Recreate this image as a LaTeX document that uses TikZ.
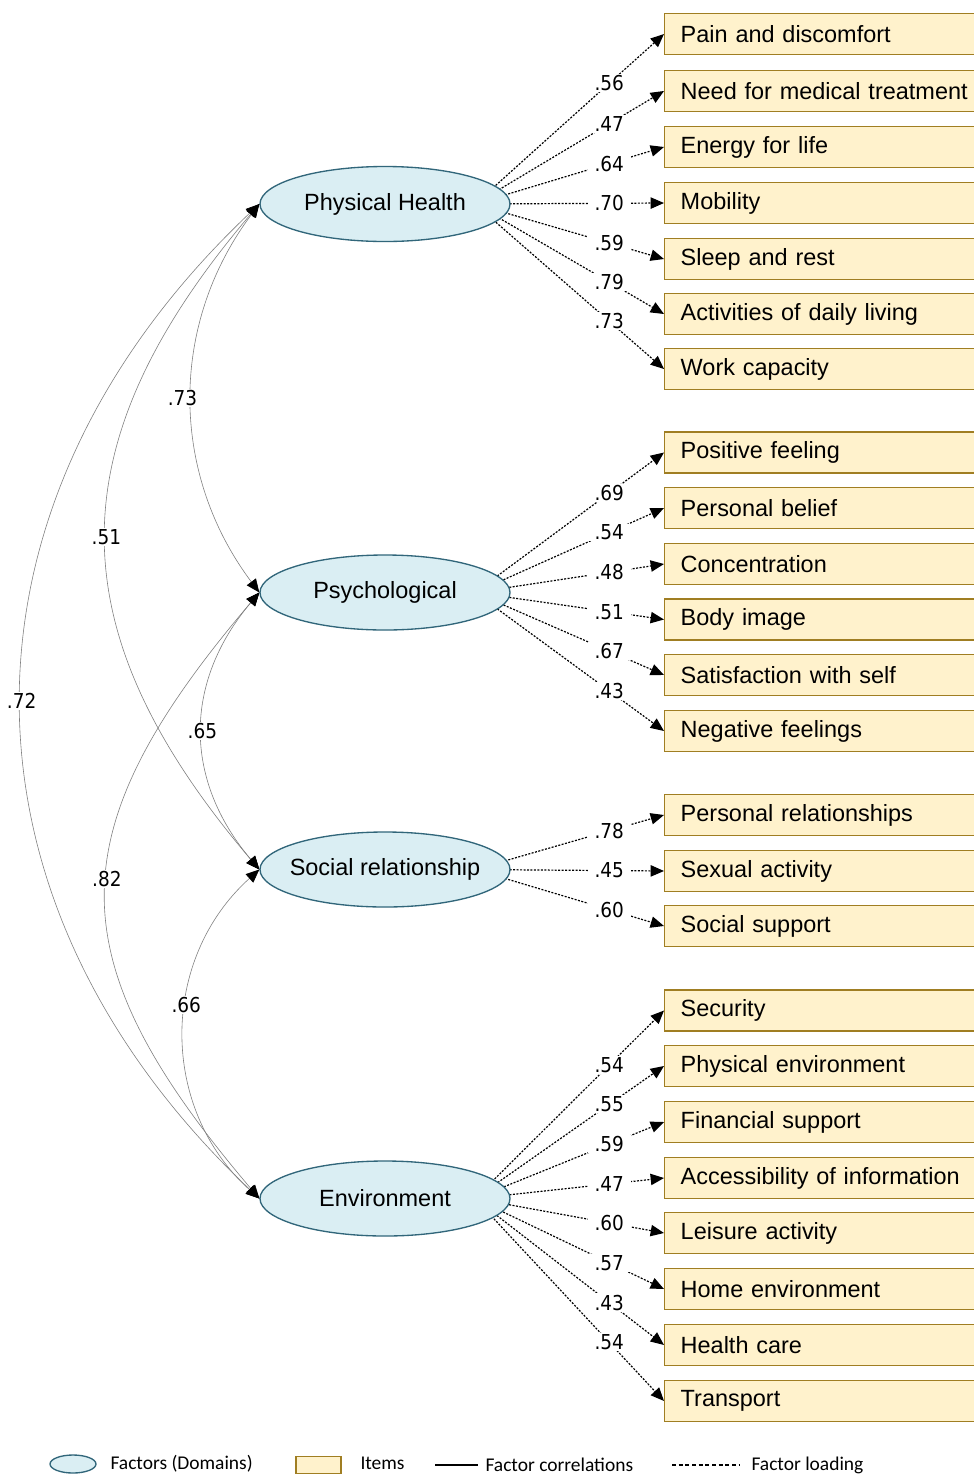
\documentclass[tikz,border=0pt]{standalone}
\usepackage{fontspec}
\setmainfont{Liberation Sans}
\newfontfamily\numfont[FakeStretch=0.9]{DejaVu Sans}
\newfontfamily\legfont{Carlito}
\usetikzlibrary{arrows.meta,shapes.geometric}
\tikzset{every picture/.style={line width=0.75pt}}
\definecolor{factorfill}{RGB}{218,238,243}
\definecolor{factordraw}{RGB}{49,102,122}
\definecolor{itemfill}{RGB}{255,242,204}
\definecolor{itemdraw}{RGB}{160,126,34}
\definecolor{corrgray}{RGB}{128,128,128}
\tikzset{
  factor/.style={ellipse, draw=factordraw, fill=factorfill, line width=1pt,
    minimum width=187.5pt, minimum height=56.25pt, inner xsep=-8pt, inner ysep=0pt,
    font=\fontsize{17.6}{21}\selectfont},
  item/.style={draw=itemdraw, fill=itemfill, line width=1.1pt, anchor=west,
    minimum height=30.75pt, text width=230pt, inner xsep=12pt, align=left,
    font=\fontsize{17.6}{21}\selectfont},
  loading/.style={dash pattern=on 1.5pt off 1.1pt, line width=0.9pt,
    -{Triangle[length=10pt,width=8.5pt]}},
  corr/.style={draw=corrgray, line width=0.45pt,
    {Triangle[length=10pt,width=8.5pt,black]}-{Triangle[length=10pt,width=8.5pt,black]}},
  numlabel/.style={fill=white, inner xsep=5pt, inner ysep=1pt, font=\numfont\fontsize{15.4}{18}\selectfont},
  legtext/.style={anchor=west, inner sep=0pt, font=\legfont\fontsize{14.6}{17}\selectfont}
}

\begin{document}
\begin{tikzpicture}[x=0.75pt,y=0.75pt,yscale=-1,xscale=1]
\useasboundingbox (0,0) rectangle (974,1475);

%Items: Physical Health
\node[item] (pain) at (664,34) {Pain and discomfort};
\node[item] (medic) at (664,91) {Need for medical treatment};
\node[item] (energy) at (664,147) {Energy for life};
\node[item] (mobil) at (664,203) {Mobility};
\node[item] (sleep) at (664,259) {Sleep and rest};
\node[item] (daily) at (664,314) {Activities of daily living};
\node[item] (work) at (664,369) {Work capacity};
%Items: Psychological
\node[item] (posfeel) at (664,452.5) {Positive feeling};
\node[item] (belief) at (664,508) {Personal belief};
\node[item] (concen) at (664,564) {Concentration};
\node[item] (body) at (664,619.5) {Body image};
\node[item] (satis) at (664,675) {Satisfaction with self};
\node[item] (negfeel) at (664,731) {Negative feelings};
%Items: Social relationship
\node[item] (relat) at (664,815) {Personal relationships};
\node[item] (sexual) at (664,871) {Sexual activity};
\node[item] (support) at (664,926) {Social support};
%Items: Environment
\node[item] (secur) at (664,1010.5) {Security};
\node[item] (physenv) at (664,1066) {Physical environment};
\node[item] (finan) at (664,1122) {Financial support};
\node[item] (access) at (664,1178) {Accessibility of information};
\node[item] (leisure) at (664,1233) {Leisure activity};
\node[item] (homeenv) at (664,1289) {Home environment};
\node[item] (health) at (664,1345) {Health care};
\node[item] (transp) at (664,1401) {Transport};

%Factor hubs (inside the ellipses)
\coordinate (ph-c) at (475,204);
\coordinate (ps-c) at (475,592.5);
\coordinate (sr-c) at (475,869.5);
\coordinate (en-c) at (475,1198.5);

%Factor loadings
\draw[loading] (ph-c) -- (pain.west) node[numlabel, pos=0.71] {.56};
\draw[loading] (ph-c) -- (medic.west) node[numlabel, pos=0.71] {.47};
\draw[loading] (ph-c) -- (energy.west) node[numlabel, pos=0.71] {.64};
\draw[loading] (ph-c) -- (mobil.west) node[numlabel, pos=0.71] {.70};
\draw[loading] (ph-c) -- (sleep.west) node[numlabel, pos=0.71] {.59};
\draw[loading] (ph-c) -- (daily.west) node[numlabel, pos=0.71] {.79};
\draw[loading] (ph-c) -- (work.west) node[numlabel, pos=0.71] {.73};

\draw[loading] (ps-c) -- (posfeel.west) node[numlabel, pos=0.71] {.69};
\draw[loading] (ps-c) -- (belief.west) node[numlabel, pos=0.71] {.54};
\draw[loading] (ps-c) -- (concen.west) node[numlabel, pos=0.71] {.48};
\draw[loading] (ps-c) -- (body.west) node[numlabel, pos=0.71] {.51};
\draw[loading] (ps-c) -- (satis.west) node[numlabel, pos=0.71] {.67};
\draw[loading] (ps-c) -- (negfeel.west) node[numlabel, pos=0.71] {.43};

\draw[loading] (sr-c) -- (relat.west) node[numlabel, pos=0.71] {.78};
\draw[loading] (sr-c) -- (sexual.west) node[numlabel, pos=0.71] {.45};
\draw[loading] (sr-c) -- (support.west) node[numlabel, pos=0.71] {.60};

\draw[loading] (en-c) -- (secur.west) node[numlabel, pos=0.71] {.54};
\draw[loading] (en-c) -- (physenv.west) node[numlabel, pos=0.71] {.55};
\draw[loading] (en-c) -- (finan.west) node[numlabel, pos=0.71] {.59};
\draw[loading] (en-c) -- (access.west) node[numlabel, pos=0.71] {.47};
\draw[loading] (en-c) -- (leisure.west) node[numlabel, pos=0.71] {.60};
\draw[loading] (en-c) -- (homeenv.west) node[numlabel, pos=0.71] {.57};
\draw[loading] (en-c) -- (health.west) node[numlabel, pos=0.71] {.43};
\draw[loading] (en-c) -- (transp.west) node[numlabel, pos=0.71] {.54};

%Factors
\node[factor] (ph) at (385,204) {Physical Health};
\node[factor] (ps) at (385,592.5) {Psychological};
\node[factor] (sr) at (385,869.5) {Social relationship};
\node[factor] (en) at (385,1198.5) {Environment};

%Factor correlations
\draw[corr] (ph.west) .. controls +(-90,120) and +(-90,-120) .. (ps.west) node[numlabel, pos=0.5, inner xsep=1pt, xshift=-7pt] {.73};
\draw[corr] (ph.west) .. controls +(-204,240) and +(-204,-240) .. (sr.west) node[numlabel, pos=0.5, inner xsep=1pt] {.51};
\draw[corr] (ph.west) .. controls +(-317,300) and +(-317,-300) .. (en.west) node[numlabel, pos=0.5, inner xsep=1pt] {.72};
\draw[corr] (ps.west) .. controls +(-76,90) and +(-76,-90) .. (sr.west) node[numlabel, pos=0.5, inner xsep=1pt] {.65};
\draw[corr] (ps.west) .. controls +(-204,240) and +(-204,-240) .. (en.west) node[numlabel, pos=0.47, inner xsep=1pt] {.82};
\draw[corr] (sr.west) .. controls +(-100,90) and +(-100,-90) .. (en.west) node[numlabel, pos=0.42, inner xsep=1pt] {.66};

%Legend
\node[ellipse, draw=factordraw, fill=factorfill, line width=1pt, minimum width=34.5pt, minimum height=13.5pt] (leg-factor) at (73,1464) {};
\node[legtext] (leg-factor-t) at (110,1464) {Factors (Domains)};
\node[draw=itemdraw, fill=itemfill, line width=1pt, minimum width=33.75pt, minimum height=12.75pt, inner sep=0pt] (leg-item) at (318.5,1465) {};
\node[legtext] (leg-item-t) at (360,1463) {Items};
\coordinate (leg-c1) at (435,1465);
\coordinate (leg-c2) at (478,1465);
\draw[line width=0.8pt] (leg-c1) -- (leg-c2);
\node[legtext] (leg-corr-t) at (485,1465) {Factor correlations};
\coordinate (leg-l1) at (672,1465);
\coordinate (leg-l2) at (740,1465);
\draw[line width=0.8pt, dash pattern=on 3pt off 2pt] (leg-l1) -- (leg-l2);
\node[legtext] (leg-load-t) at (751,1465) {Factor loading};

\end{tikzpicture}
\end{document}
